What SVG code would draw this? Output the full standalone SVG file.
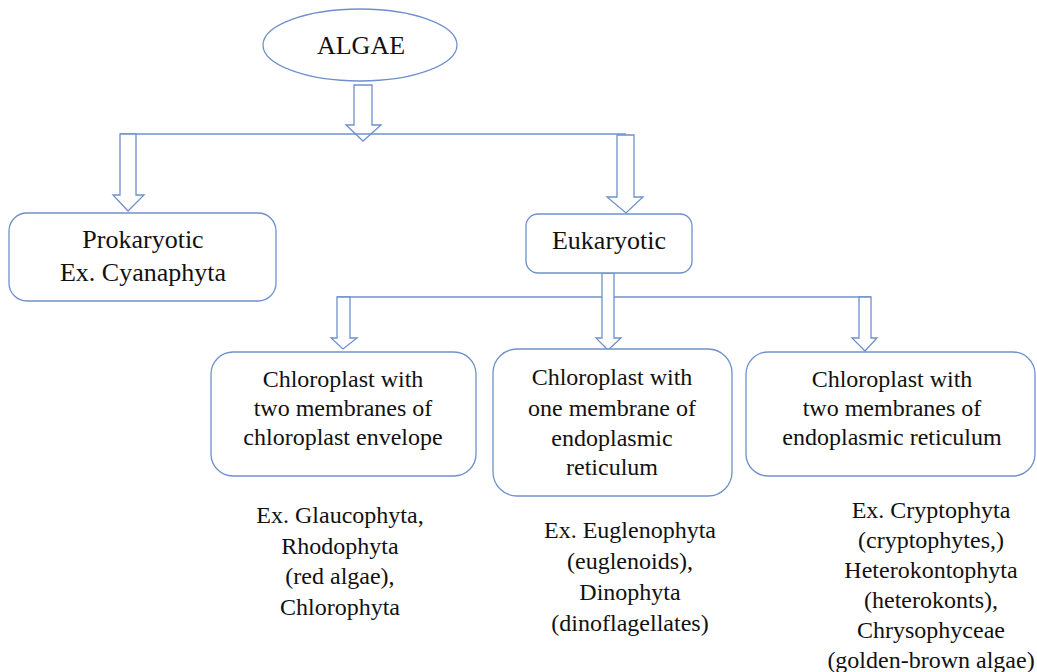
<svg xmlns="http://www.w3.org/2000/svg" width="1037" height="672" viewBox="0 0 1037 672">
<style>
.shape{fill:#ffffff;stroke:#6F90CB;stroke-width:1.3}
.line{fill:none;stroke:#6F90CB;stroke-width:1.3}
.arrow{fill:#ffffff;stroke:#6F90CB;stroke-width:1.3;stroke-linejoin:miter}
text{font-family:"Liberation Serif","Times New Roman",serif;fill:#111111;text-anchor:middle}
.big{font-size:26px}
.med{font-size:24px}
</style>
<rect width="1037" height="672" fill="#ffffff"/>
<g id="connectors">
  <polygon class="arrow" points="354,85 372,85 372,125 381,125 363,141 346,125 354,125"/>
  <line class="line" x1="120" y1="134" x2="626" y2="134"/>
  <polygon class="arrow" points="120,134 136,134 136,195 144,195 128,211 113,195 120,195"/>
  <polygon class="arrow" points="617,135 634,135 634,197 643,197 626,213 607,197 617,197"/>
  <line class="line" x1="337" y1="297" x2="871" y2="297"/>
  <polygon class="arrow" points="602,273 614,273 614,338 621,338 608,350 596,338 602,338"/>
  <polygon class="arrow" points="337,297 350,297 350,338 357,338 343,349 331,338 337,338"/>
  <polygon class="arrow" points="859,297 871,297 871,338 877,338 865,351 852,338 859,338"/>
</g>
<g id="algae">
  <ellipse class="shape" cx="360" cy="45" rx="97" ry="36"/>
  <text class="big" x="361" y="54">ALGAE</text>
</g>
<g id="prokaryotic">
  <rect class="shape" x="9" y="213" width="267" height="88" rx="18"/>
  <text class="big" x="143" y="248">Prokaryotic</text>
  <text class="big" x="143" y="281">Ex. Cyanaphyta</text>
</g>
<g id="eukaryotic">
  <rect class="shape" x="526" y="214" width="166" height="59" rx="12"/>
  <text class="big" x="609" y="249">Eukaryotic</text>
</g>
<g id="chloro-envelope">
  <rect class="shape" x="211" y="352" width="265" height="124" rx="22"/>
  <text class="med" x="343" y="387">Chloroplast with</text>
  <text class="med" x="343" y="416">two membranes of</text>
  <text class="med" x="343" y="445">chloroplast envelope</text>
</g>
<g id="chloro-one-er">
  <rect class="shape" x="493" y="349" width="239" height="147" rx="24"/>
  <text class="med" x="612" y="385">Chloroplast with</text>
  <text class="med" x="612" y="416">one membrane of</text>
  <text class="med" x="612" y="446">endoplasmic</text>
  <text class="med" x="612" y="475">reticulum</text>
</g>
<g id="chloro-two-er">
  <rect class="shape" x="746" y="352" width="289" height="124" rx="22"/>
  <text class="med" x="892" y="387">Chloroplast with</text>
  <text class="med" x="892" y="416">two membranes of</text>
  <text class="med" x="892" y="445">endoplasmic reticulum</text>
</g>
<g id="examples-left">
  <text class="med" x="340" y="523">Ex. Glaucophyta,</text>
  <text class="med" x="340" y="554">Rhodophyta</text>
  <text class="med" x="340" y="584">(red algae),</text>
  <text class="med" x="340" y="615">Chlorophyta</text>
</g>
<g id="examples-middle">
  <text class="med" x="630" y="538">Ex. Euglenophyta</text>
  <text class="med" x="630" y="569">(euglenoids),</text>
  <text class="med" x="630" y="600">Dinophyta</text>
  <text class="med" x="630" y="631">(dinoflagellates)</text>
</g>
<g id="examples-right">
  <text class="med" x="931" y="518">Ex. Cryptophyta</text>
  <text class="med" x="931" y="548">(cryptophytes,)</text>
  <text class="med" x="931" y="578">Heterokontophyta</text>
  <text class="med" x="931" y="608">(heterokonts),</text>
  <text class="med" x="931" y="638">Chrysophyceae</text>
  <text class="med" x="931" y="668">(golden-brown algae)</text>
</g>
</svg>
